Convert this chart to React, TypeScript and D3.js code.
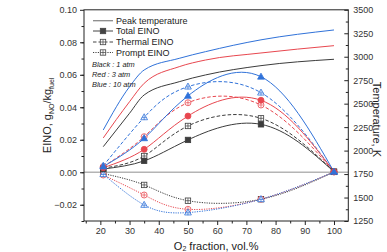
import React, { useEffect, useRef } from "react";
import * as d3 from "d3";

// O2 fraction (vol.%) at which EINO was evaluated
const O2_FRACTION = [21, 35, 50, 75, 100];

// Total EINO, g/kg fuel
const TOTAL_1ATM = [0.002, 0.007, 0.0199, 0.0295, 0.0003];
const TOTAL_3ATM = [0.0028, 0.0141, 0.0346, 0.0443, 0.0003];
const TOTAL_10ATM = [0.0035, 0.0209, 0.047, 0.0588, 0.0003];

// Thermal EINO
const THERMAL_1ATM = [0.0025, 0.01, 0.0285, 0.0332, 0.0003];
const THERMAL_3ATM = [0.0035, 0.0219, 0.0428, 0.0414, 0.0003];
const THERMAL_10ATM = [0.004, 0.0338, 0.0527, 0.049, 0.0003];

// Prompt EINO
const PROMPT_1ATM = [-0.0008, -0.0078, -0.0175, -0.0166, 0.0002];
const PROMPT_3ATM = [-0.0017, -0.014, -0.0228, -0.0166, 0.0002];
const PROMPT_10ATM = [-0.0012, -0.0201, -0.0248, -0.0166, 0.0002];

// Peak flame temperature, K (right axis)
const PEAK_X = [21, 30, 35, 47, 56, 75, 100];
const PEAK_T_1ATM = [2042, 2398, 2593, 2734, 2806, 2905, 2973];
const PEAK_T_3ATM = [2135, 2521, 2717, 2894, 2965, 3040, 3118];
const PEAK_T_10ATM = [2220, 2681, 2859, 2983, 3054, 3180, 3285];

const X_TICKS = [20, 30, 40, 50, 60, 70, 80, 90, 100];
const Y_TICKS = [-0.02, 0, 0.02, 0.04, 0.06, 0.08, 0.1];
const T_TICKS = [1250, 1500, 1750, 2000, 2250, 2500, 2750, 3000, 3250, 3500];

const LEGEND_ITEMS = ["Peak temperature", "Total EINO", "Thermal EINO", "Prompt EINO"];
const PRESSURE_NOTES = ["Black : 1 atm", "Red : 3 atm", "Blue : 10 atm"];

const BLACK = "#3c3c3c";
const RED = "#e8474f";
const BLUE = "#3072d9";

type Shape = "square" | "circle" | "triangle";

export default function App() {
  const ref = useRef<SVGSVGElement | null>(null);

  useEffect(() => {
    const svg = d3.select(ref.current);
    svg.selectAll("*").remove();

    const font = "'Liberation Sans', Arial, sans-serif";
    const left = 84;
    const right = 348.3;
    const top = 9.8;
    const bottom = 221;

    const x = d3.scaleLinear().domain([14.4, 104.9]).range([left, right]);
    const y = d3.scaleLinear().domain([-0.03, 0.1]).range([bottom, top]);
    const yT = d3.scaleLinear().domain([1250, 3500]).range([bottom, top]);

    // ZERO LINE
    svg
      .append("line")
      .attr("x1", left)
      .attr("x2", right)
      .attr("y1", y(0))
      .attr("y2", y(0))
      .attr("stroke", "#b4b4b4")
      .attr("stroke-width", 1.5);

    // PEAK TEMPERATURE LINES
    const tLine = d3
      .line<number>()
      .x((_, i) => x(PEAK_X[i]))
      .y((d) => yT(d))
      .curve(d3.curveMonotoneX);

    [
      [PEAK_T_1ATM, BLACK],
      [PEAK_T_3ATM, RED],
      [PEAK_T_10ATM, BLUE],
    ].forEach(([vals, color]) => {
      svg
        .append("path")
        .datum(vals as number[])
        .attr("fill", "none")
        .attr("stroke", color as string)
        .attr("stroke-width", 1)
        .attr("d", tLine);
    });

    // EINO CURVES
    const einoLine = d3
      .line<number>()
      .x((_, i) => x(O2_FRACTION[i]))
      .y((d) => y(d))
      .curve(d3.curveNatural);

    const drawMarker = (
      g: d3.Selection<SVGGElement, unknown, null, undefined>,
      shape: Shape,
      cx: number,
      cy: number,
      color: string,
      open: boolean
    ) => {
      let el;
      if (shape === "square") {
        el = g.append("rect").attr("x", cx - 2.7).attr("y", cy - 2.7).attr("width", 5.4).attr("height", 5.4);
      } else if (shape === "circle") {
        el = g.append("circle").attr("cx", cx).attr("cy", cy).attr("r", 3);
      } else {
        el = g
          .append("path")
          .attr("d", `M${cx},${cy - 3.6}L${cx + 3.4},${cy + 2.4}L${cx - 3.4},${cy + 2.4}Z`);
      }
      el.attr("fill", open ? "#fff" : color)
        .attr("stroke", color)
        .attr("stroke-width", 0.8);
      if (open) {
        const c = shape === "triangle" ? cy + 0.3 : cy;
        g.append("path")
          .attr("d", `M${cx - 2.4},${c}H${cx + 2.4}M${cx},${c - 2.4}V${c + 2.4}`)
          .attr("stroke", color)
          .attr("stroke-width", 0.7);
      }
    };

    const series: [number[], string, string, Shape, boolean][] = [
      [PROMPT_1ATM, BLACK, "1.2,1.2", "square", true],
      [PROMPT_3ATM, RED, "1.2,1.2", "circle", true],
      [PROMPT_10ATM, BLUE, "1.2,1.2", "triangle", true],
      [THERMAL_1ATM, BLACK, "3.5,2", "square", true],
      [THERMAL_3ATM, RED, "3.5,2", "circle", true],
      [THERMAL_10ATM, BLUE, "3.5,2", "triangle", true],
      [TOTAL_1ATM, BLACK, "", "square", false],
      [TOTAL_3ATM, RED, "", "circle", false],
      [TOTAL_10ATM, BLUE, "", "triangle", false],
    ];

    series.forEach(([vals, color, dash]) => {
      svg
        .append("path")
        .datum(vals)
        .attr("fill", "none")
        .attr("stroke", color)
        .attr("stroke-width", 1)
        .attr("stroke-dasharray", dash || null)
        .attr("d", einoLine);
    });

    series.forEach(([vals, color, , shape, open]) => {
      const g = svg.append("g");
      vals.forEach((v, i) => drawMarker(g, shape, x(O2_FRACTION[i]), y(v), color, open));
    });

    // FRAME
    svg
      .append("rect")
      .attr("x", left)
      .attr("y", top)
      .attr("width", right - left)
      .attr("height", bottom - top)
      .attr("fill", "none")
      .attr("stroke", "#222")
      .attr("stroke-width", 1);

    // X AXIS ON BOTTOM
    const xAxis = svg.append("g").attr("transform", `translate(0,${bottom})`);
    xAxis
      .call(
        d3
          .axisBottom(x)
          .tickValues(d3.range(15, 105, 10))
          .tickSize(2.5)
          .tickFormat(() => "")
      )
      .call((g) => g.select(".domain").remove());
    xAxis
      .append("g")
      .call(d3.axisBottom(x).tickValues(X_TICKS).tickSize(4).tickPadding(3))
      .call((g) => g.select(".domain").remove());

    // Y AXIS ON LEFT
    const yAxis = svg.append("g").attr("transform", `translate(${left},0)`);
    yAxis
      .call(
        d3
          .axisLeft(y)
          .tickValues(d3.range(-0.03, 0.1, 0.01).map((d) => +d.toFixed(2)))
          .tickSize(2.5)
          .tickFormat(() => "")
      )
      .call((g) => g.select(".domain").remove());
    yAxis
      .append("g")
      .call(d3.axisLeft(y).tickValues(Y_TICKS).tickSize(4).tickPadding(3).tickFormat(d3.format(".2f")))
      .call((g) => g.select(".domain").remove());

    // TEMPERATURE AXIS ON RIGHT (ticks inside)
    const tAxis = svg.append("g").attr("transform", `translate(${right},0)`);
    tAxis
      .call(
        d3
          .axisLeft(yT)
          .tickValues(d3.range(1375, 3500, 250))
          .tickSize(2.5)
          .tickFormat(() => "")
      )
      .call((g) => g.select(".domain").remove());
    tAxis
      .append("g")
      .call(d3.axisLeft(yT).tickValues(T_TICKS).tickSize(4).tickFormat(() => ""))
      .call((g) => g.select(".domain").remove());
    tAxis
      .append("g")
      .call(d3.axisRight(yT).tickValues(T_TICKS).tickSize(0).tickPadding(5).tickFormat(d3.format("d")))
      .call((g) => g.select(".domain").remove());

    svg.selectAll(".tick line").attr("stroke", "#222");
    svg
      .selectAll(".tick text")
      .attr("font-family", font)
      .attr("font-size", 9)
      .attr("fill", "#333");

    // AXIS TITLES
    svg
      .append("text")
      .attr("x", (left + right) / 2)
      .attr("y", 249.5)
      .attr("text-anchor", "middle")
      .attr("font-family", font)
      .attr("font-size", 11)
      .attr("fill", "#222")
      .call((t) => {
        t.append("tspan").text("O");
        t.append("tspan").attr("font-size", 7).attr("dy", 1.5).text("2");
        t.append("tspan").attr("dy", -1.5).text(" fraction, vol.%");
      });

    svg
      .append("text")
      .attr("transform", `translate(51,${(top + bottom) / 2}) rotate(-90)`)
      .attr("text-anchor", "middle")
      .attr("font-family", font)
      .attr("font-size", 11)
      .attr("fill", "#222")
      .call((t) => {
        t.append("tspan").text("EINO, g");
        t.append("tspan").attr("font-size", 7).attr("dy", 2.5).text("NO");
        t.append("tspan").attr("dy", -2.5).text("/kg");
        t.append("tspan").attr("font-size", 7).attr("dy", 2.5).text("fuel");
      });

    svg
      .append("text")
      .attr("transform", `translate(373,${(top + bottom) / 2 + 4}) rotate(90)`)
      .attr("text-anchor", "middle")
      .attr("font-family", font)
      .attr("font-size", 11)
      .attr("fill", "#222")
      .text("Temperature, K");

    // LEGEND
    const legend = svg.append("g");
    const legendY = [20.7, 31, 42, 52.5];
    const legendDash = ["", "", "3.5,2", "1.2,1.2"];
    LEGEND_ITEMS.forEach((label, i) => {
      const ly = legendY[i];
      legend
        .append("line")
        .attr("x1", 93)
        .attr("x2", 113)
        .attr("y1", ly)
        .attr("y2", ly)
        .attr("stroke", i === 0 ? "#8a8a8a" : "#444")
        .attr("stroke-width", i === 0 ? 1.3 : 1)
        .attr("stroke-dasharray", legendDash[i] || null);
      if (i > 0) drawMarker(legend, "square", 103, ly, "#444", i > 1);
      legend
        .append("text")
        .attr("x", 116)
        .attr("y", ly + 3.2)
        .attr("font-family", font)
        .attr("font-size", 9)
        .attr("fill", "#222")
        .text(label);
    });
    PRESSURE_NOTES.forEach((label, i) => {
      legend
        .append("text")
        .attr("x", 92)
        .attr("y", 66.5 + i * 10.2)
        .attr("font-family", font)
        .attr("font-size", 7.4)
        .attr("font-style", "italic")
        .attr("fill", "#222")
        .text(label);
    });
  }, []);

  return (
    <svg
      ref={ref}
      width={387}
      height={252}
      style={{ position: "absolute", left: 0, top: 0, background: "#fff" }}
    />
  );
}
